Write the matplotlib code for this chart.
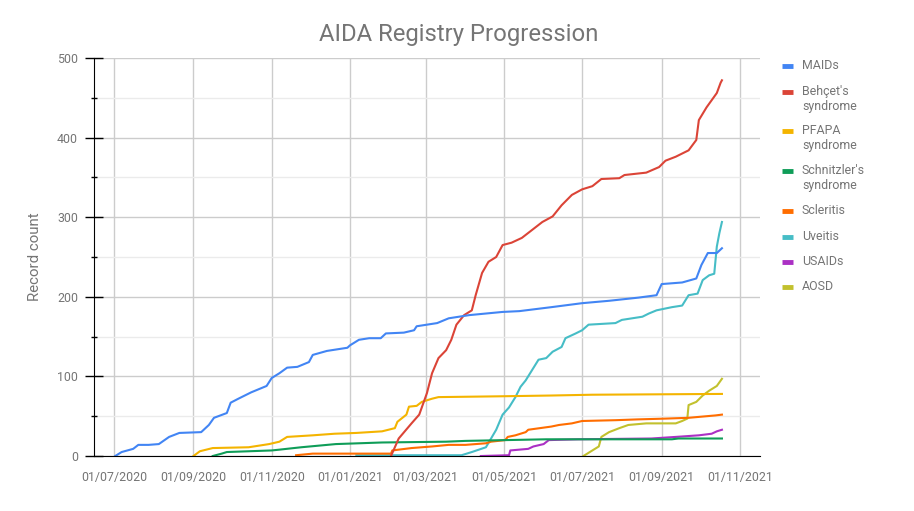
import numpy as np
import pandas as pd
import matplotlib
matplotlib.use("Agg")
from matplotlib import pyplot as plt
import matplotlib.dates as mdates
from matplotlib.lines import Line2D

plt.rcParams["font.family"] = ["Roboto", "DejaVu Sans"]

# cumulative record counts per registry section
maids_dates = ["2020-07-02", "2020-07-07", "2020-07-16", "2020-07-20", "2020-07-28",
               "2020-08-05", "2020-08-13", "2020-08-21", "2020-09-07", "2020-09-13",
               "2020-09-17", "2020-09-27", "2020-09-30", "2020-10-06", "2020-10-16",
               "2020-10-28", "2020-11-01", "2020-11-07", "2020-11-13", "2020-11-21",
               "2020-11-30", "2020-12-03", "2020-12-14", "2020-12-30", "2021-01-01",
               "2021-01-08", "2021-01-16", "2021-01-25", "2021-01-29", "2021-02-12",
               "2021-02-20", "2021-02-22", "2021-03-10", "2021-03-19", "2021-04-04",
               "2021-04-30", "2021-05-13", "2021-06-07", "2021-07-01", "2021-07-22",
               "2021-08-14", "2021-08-28", "2021-09-01", "2021-09-17", "2021-09-28",
               "2021-10-02", "2021-10-07", "2021-10-14", "2021-10-18"]
maids_counts = [0, 5, 9, 14, 14, 15, 24, 29, 30, 39, 48, 54, 67, 72, 80, 88, 98, 104,
                111, 112, 118, 127, 132, 136, 139, 146, 148, 148, 154, 155, 158, 163,
                167, 173, 177, 181, 182, 187, 192, 195, 199, 202, 216, 218, 223, 240,
                255, 255, 261]

behcet_dates = ["2021-02-02", "2021-02-08", "2021-02-18", "2021-02-24", "2021-03-02",
                "2021-03-06", "2021-03-11", "2021-03-17", "2021-03-21", "2021-03-25",
                "2021-03-31", "2021-04-06", "2021-04-09", "2021-04-14", "2021-04-19",
                "2021-04-25", "2021-04-30", "2021-05-07", "2021-05-15", "2021-05-23",
                "2021-05-31", "2021-06-08", "2021-06-15", "2021-06-23", "2021-07-01",
                "2021-07-09", "2021-07-16", "2021-07-30", "2021-08-03", "2021-08-20",
                "2021-08-30", "2021-09-04", "2021-09-12", "2021-09-22", "2021-09-28",
                "2021-09-30", "2021-10-06", "2021-10-10", "2021-10-14", "2021-10-17",
                "2021-10-18"]
behcet_counts = [0, 22, 41, 52, 79, 104, 123, 133, 146, 165, 177, 183, 202, 230, 244,
                 250, 265, 268, 274, 284, 294, 301, 315, 328, 335, 339, 348, 349, 353,
                 356, 363, 371, 376, 384, 397, 422, 438, 447, 456, 469, 472]

pfapa_dates = ["2020-09-01", "2020-09-06", "2020-09-16", "2020-10-14", "2020-10-30",
               "2020-11-07", "2020-11-13", "2020-12-03", "2020-12-20", "2021-01-06",
               "2021-01-26", "2021-02-05", "2021-02-07", "2021-02-14", "2021-02-16",
               "2021-02-22", "2021-02-26", "2021-03-06", "2021-03-11", "2021-04-27",
               "2021-06-07", "2021-07-09", "2021-10-18"]
pfapa_counts = [0, 6, 10, 11, 15, 18, 24, 26, 28, 29, 31, 35, 43, 52, 62, 63, 68, 72,
                74, 75, 76, 77, 78]

schnitzler_dates = ["2020-09-16", "2020-09-23", "2020-09-27", "2020-11-01", "2020-11-07",
                    "2020-11-24", "2020-12-21", "2021-01-26", "2021-03-17", "2021-04-01",
                    "2021-06-03", "2021-09-09", "2021-09-14", "2021-10-18"]
schnitzler_counts = [0, 3, 5, 7, 8, 11, 15, 17, 18, 19, 21, 21, 22, 22]

scleritis_dates = ["2020-11-20", "2020-12-03", "2021-02-02", "2021-02-03", "2021-02-18",
                   "2021-03-06", "2021-03-19", "2021-04-01", "2021-04-17", "2021-04-21",
                   "2021-05-02", "2021-05-04", "2021-05-10", "2021-05-18", "2021-05-20",
                   "2021-06-07", "2021-06-13", "2021-06-23", "2021-07-01", "2021-07-27",
                   "2021-08-13", "2021-09-04", "2021-09-22", "2021-10-13", "2021-10-18"]
scleritis_counts = [1, 3, 3, 7, 10, 12, 14, 14, 16, 18, 20, 24, 26, 30, 33, 37, 39, 41,
                    44, 45, 46, 47, 48, 51, 52]

uveitis_dates = ["2021-01-06", "2021-03-29", "2021-04-06", "2021-04-17", "2021-04-21",
                 "2021-04-25", "2021-04-30", "2021-05-05", "2021-05-10", "2021-05-14",
                 "2021-05-18", "2021-05-23", "2021-05-28", "2021-06-03", "2021-06-08",
                 "2021-06-15", "2021-06-18", "2021-06-26", "2021-07-01", "2021-07-06",
                 "2021-07-27", "2021-08-01", "2021-08-17", "2021-08-22", "2021-08-28",
                 "2021-09-09", "2021-09-17", "2021-09-22", "2021-09-29", "2021-10-03",
                 "2021-10-08", "2021-10-12", "2021-10-14", "2021-10-16", "2021-10-18"]
uveitis_counts = [1, 1, 5, 11, 22, 33, 52, 61, 74, 87, 95, 108, 121, 123, 131, 137,
                  148, 154, 158, 165, 167, 171, 175, 179, 183, 187, 189, 202, 204, 221,
                  227, 229, 263, 280, 294]

usaids_dates = ["2021-04-13", "2021-05-05", "2021-05-06", "2021-05-20", "2021-05-24",
                "2021-06-01", "2021-06-05", "2021-06-28", "2021-08-24", "2021-09-12",
                "2021-09-30", "2021-10-10", "2021-10-14", "2021-10-18"]
usaids_counts = [0, 1, 7, 9, 12, 15, 20, 21, 22, 24, 26, 28, 31, 33]

aosd_dates = ["2021-07-02", "2021-07-09", "2021-07-14", "2021-07-16", "2021-07-22",
              "2021-07-30", "2021-08-06", "2021-08-20", "2021-09-12", "2021-09-17",
              "2021-09-21", "2021-09-22", "2021-09-28", "2021-10-03", "2021-10-08",
              "2021-10-14", "2021-10-18"]
aosd_counts = [0, 7, 12, 24, 30, 35, 39, 41, 41, 44, 47, 64, 68, 76, 82, 88, 97]

series_names = ["MAIDs", "Behçet's\nsyndrome", "PFAPA\nsyndrome",
                "Schnitzler's\nsyndrome", "Scleritis", "Uveitis", "USAIDs", "AOSD"]
series_dates = [maids_dates, behcet_dates, pfapa_dates, schnitzler_dates,
                scleritis_dates, uveitis_dates, usaids_dates, aosd_dates]
series_counts = [maids_counts, behcet_counts, pfapa_counts, schnitzler_counts,
                 scleritis_counts, uveitis_counts, usaids_counts, aosd_counts]
series_colours = ["#4285F4", "#DB4437", "#F4B400", "#0F9D58",
                  "#FF6D00", "#46BDC6", "#AB30C4", "#C2C12E"]

month_ticks = ["2020-07-01", "2020-09-01", "2020-11-01", "2021-01-01",
               "2021-03-01", "2021-05-01", "2021-07-01", "2021-09-01", "2021-11-01"]

text_grey = "#757575"

fig = plt.figure(figsize=(9.14, 5.11), dpi=100)
ax = fig.add_axes([0.1028, 0.1076, 0.7287, 0.7789])

# draw later series first so MAIDs etc. sit on top like the original
for name, dates, counts, colour in reversed(list(zip(series_names, series_dates,
                                                       series_counts, series_colours))):
    ax.plot(pd.to_datetime(dates), counts, color=colour, linewidth=1.5,
            solid_joinstyle="round", zorder=3)

ax.set_xlim(pd.Timestamp("2020-06-15 10:00"), pd.Timestamp("2021-11-16 16:00"))
ax.set_ylim(0, 500)

ax.set_xticks(pd.to_datetime(month_ticks))
ax.xaxis.set_major_formatter(mdates.DateFormatter("%d/%m/%Y"))
ax.set_yticks(np.arange(0, 501, 100))
ax.set_yticks(np.arange(50, 500, 100), minor=True)

ax.tick_params(axis="x", length=0, pad=11, labelsize=8.9, labelcolor=text_grey)
ax.tick_params(axis="y", which="major", direction="inout", length=13, width=1,
               color="black", pad=5, labelsize=8.9, labelcolor=text_grey)
ax.tick_params(axis="y", which="minor", direction="inout", length=5, width=1,
               color="black")

ax.grid(axis="x", color="#cccccc", linewidth=1)
ax.grid(axis="y", which="major", color="#cccccc", linewidth=1)
ax.grid(axis="y", which="minor", color="#ebebeb", linewidth=1)
ax.set_axisbelow(True)

for side in ["top", "right"]:
    ax.spines[side].set_visible(False)
ax.spines["left"].set_color("black")
ax.spines["bottom"].set_color("black")
ax.spines["left"].set_zorder(4)
ax.spines["bottom"].set_zorder(4)

ax.set_ylabel("Record count", fontsize=10.8, color=text_grey, labelpad=11)

fig.text(0.5015, 0.9325, "AIDA Registry Progression", ha="center", va="center",
         fontsize=17.2, color=text_grey)

# legend at the right, handle aligned with the first text line
legend_y = [66, 92, 131, 171, 211, 237, 262, 287]
for name, colour, y_px in zip(series_names, series_colours, legend_y):
    y = 1 - y_px / 511
    fig.add_artist(Line2D([782 / 914, 793 / 914], [y, y], color=colour,
                          linewidth=3.5, solid_capstyle="butt"))
    fig.text(802 / 914, y + 7 / 511, name, ha="left", va="top", fontsize=8.9,
             color=text_grey, linespacing=1.2)

fig.savefig("out.png", dpi=100, facecolor="white")
